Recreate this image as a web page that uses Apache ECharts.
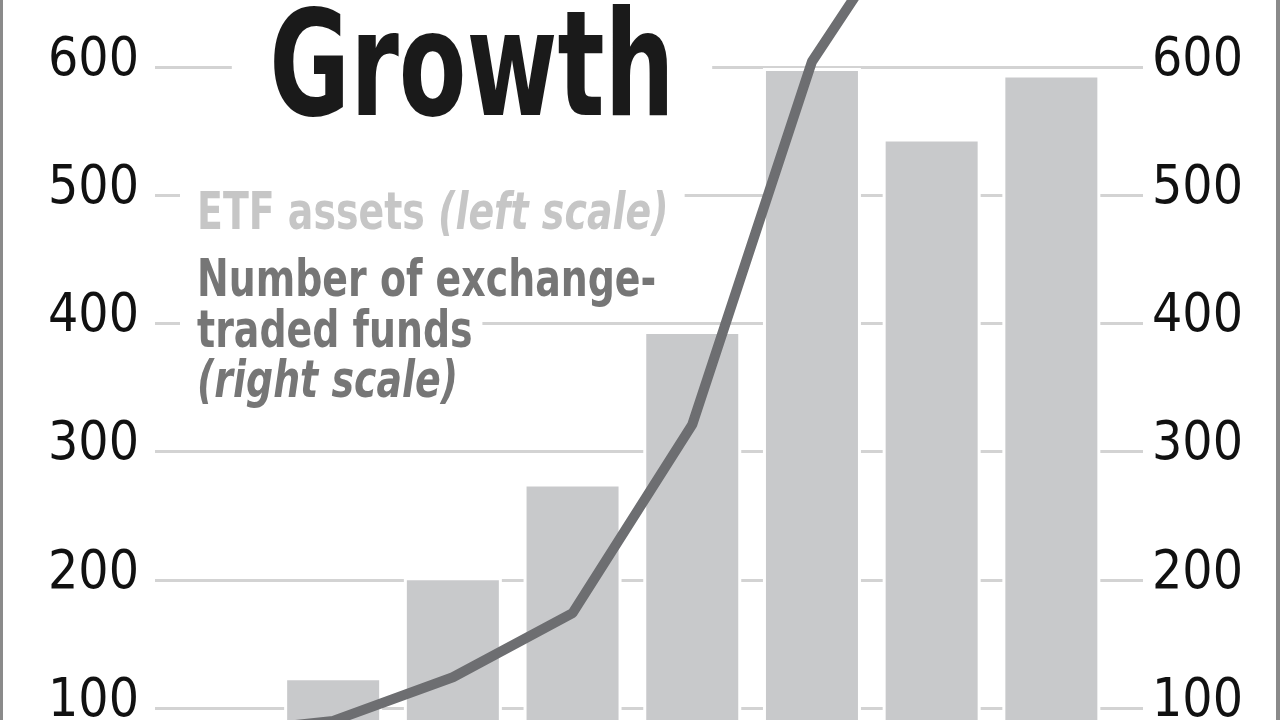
<!DOCTYPE html>
<html><head><meta charset="utf-8">
<script src="https://cdn.jsdelivr.net/npm/echarts@6/dist/echarts.min.js"></script>
<style>
html,body{margin:0;padding:0;width:1280px;height:720px;overflow:hidden;background:#fff}
#c{position:absolute;left:0;top:-100px;width:1280px;height:1000px}
</style></head>
<body><div id="c"></div>
<script>
// Data (the first category and the line beyond the top are off-view estimates)
const categories = ['2002','2003','2004','2005','2006','2007','2008','2009'];
const etfAssets  = [80, 124, 202, 275, 394, 599, 544, 594];   // left scale
const fundCount  = [80, 90, 124, 174, 321, 604, 745, 800];    // right scale
const titleText  = 'Growth';
const legendAssets = ['ETF assets ', '(left scale)'];
const legendFunds  = ['Number of exchange-', 'traded funds', '(right scale)'];

const FONT = "'Liberation Sans Narrow','DejaVu Sans Condensed','Liberation Sans',sans-serif";
const OY = 100; // container offset above the page
const chart = echarts.init(document.getElementById('c'), null, {renderer:'canvas'});

const gridTop = 38.5, gridBottom = 63.7;
const yCommon = {type:'value', min:0, max:700, interval:100};
const LSX = 0.81; // horizontal squeeze for legend text

chart.setOption({
  animation:false,
  backgroundColor:'#fff',
  grid:[
    {left:155, width:988, top:gridTop, bottom:gridBottom, containLabel:false},
    {left:153.6, width:957.6, top:gridTop, bottom:gridBottom, containLabel:false}
  ],
  xAxis:[
    {type:'category', gridIndex:0, data:categories, show:false},
    {type:'category', gridIndex:1, data:categories, show:false}
  ],
  yAxis:[
    Object.assign({}, yCommon, {gridIndex:0, position:'left',
      axisLine:{show:false}, axisTick:{show:false},
      splitLine:{show:true, lineStyle:{color:'#d3d3d3', width:3}},
      axisLabel:{show:true, margin:16, color:'#111', fontFamily:FONT, fontSize:53, verticalAlign:'bottom', lineHeight:12}}),
    Object.assign({}, yCommon, {gridIndex:0, position:'right',
      axisLine:{show:false}, axisTick:{show:false}, splitLine:{show:false},
      axisLabel:{show:true, margin:9, color:'#111', fontFamily:FONT, fontSize:53, verticalAlign:'bottom', lineHeight:12}}),
    Object.assign({}, yCommon, {gridIndex:1, position:'left', show:false, splitLine:{show:false}}),
    Object.assign({}, yCommon, {gridIndex:1, position:'right', show:false, splitLine:{show:false}})
  ],
  series:[
    {name:'ETF assets', type:'bar', xAxisIndex:1, yAxisIndex:2, data:etfAssets,
      barWidth:98, itemStyle:{color:'#c8c9cb', borderColor:'#fff', borderWidth:3}},
    {name:'Number of ETFs', type:'line', xAxisIndex:1, yAxisIndex:3, data:fundCount,
      showSymbol:false, symbol:'none', lineStyle:{color:'#6d6e71', width:10}}
  ],
  graphic:[
    {type:'rect', z:200, shape:{x:0, y:0, width:3, height:1000}, style:{fill:'#8a8a8a'}},
    {type:'rect', z:200, shape:{x:1276, y:0, width:4, height:1000}, style:{fill:'#8a8a8a'}},
    {type:'text', z:100, x:472, y:77+OY, scaleX:0.75, style:{text:titleText, fill:'#1a1a1a', font:"bold 146px "+FONT,
      textAlign:'center', textVerticalAlign:'middle', verticalAlign:'middle', align:'center',
      backgroundColor:'#fff', padding:[0,50,0,50]}},
    {type:'text', z:100, x:180, y:215+OY, scaleX:LSX, style:{
      text:'{a|'+legendAssets[0]+'}{b|'+legendAssets[1]+'}',
      verticalAlign:'middle', textVerticalAlign:'middle', backgroundColor:'#fff', padding:[4,20,4,21],
      rich:{a:{fill:'#c6c6c6', color:'#c6c6c6', fontFamily:FONT, fontWeight:'bold', fontSize:52},
            b:{fill:'#c6c6c6', color:'#c6c6c6', fontFamily:FONT, fontWeight:'bold', fontStyle:'italic', fontSize:52}}}},
    {type:'text', z:100, x:180, y:282+OY, scaleX:LSX, style:{text:legendFunds[0], fill:'#767676',
      font:"bold 52px "+FONT, verticalAlign:'middle', textVerticalAlign:'middle', backgroundColor:'#fff', padding:[2,14,2,21]}},
    {type:'text', z:100, x:180, y:333+OY, scaleX:LSX, style:{text:legendFunds[1], fill:'#767676',
      font:"bold 52px "+FONT, verticalAlign:'middle', textVerticalAlign:'middle', backgroundColor:'#fff', padding:[2,12,2,21]}},
    {type:'text', z:100, x:180, y:383+OY, scaleX:LSX, style:{text:legendFunds[2], fill:'#767676',
      font:"italic bold 52px "+FONT, verticalAlign:'middle', textVerticalAlign:'middle', backgroundColor:'#fff', padding:[2,12,2,21]}}
  ]
});
</script>
</body></html>
